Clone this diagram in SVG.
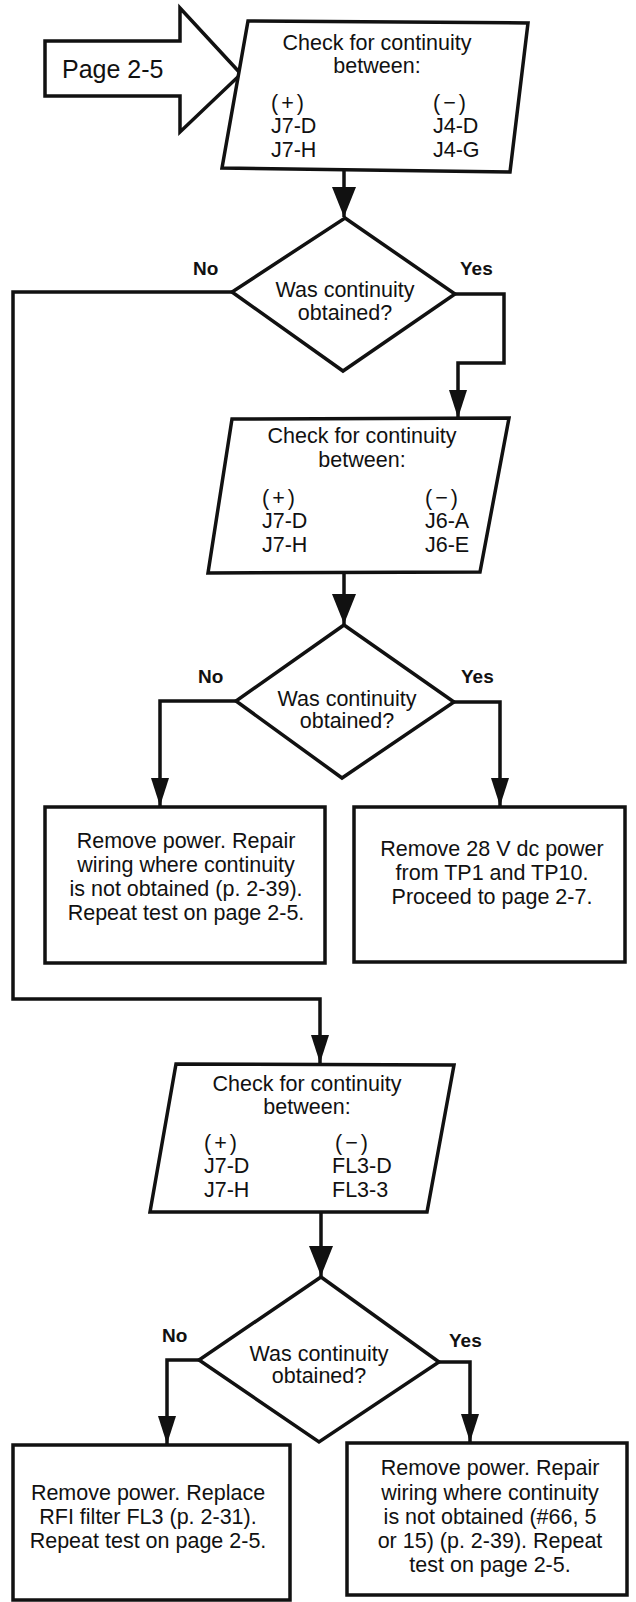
<svg xmlns="http://www.w3.org/2000/svg" width="636" height="1602" viewBox="0 0 636 1602">
  <style>
    .shape { fill: #fff; stroke: #111; stroke-width: 3.5; stroke-linejoin: miter; }
    .wire { fill: none; stroke: #111; stroke-width: 3.5; }
    .t { font-family: "Liberation Sans", Arial, sans-serif; font-size: 21.5px; fill: #111; }
    .c { text-anchor: middle; }
    .sign { letter-spacing: 3px; }
    .lbl { font-family: "Liberation Sans", Arial, sans-serif; font-size: 19px; font-weight: bold; fill: #111; }
    .page { font-family: "Liberation Sans", Arial, sans-serif; font-size: 25px; fill: #111; }
  </style>
  <defs>
    <marker id="arrow-lg" viewBox="0 0 30 24" refX="30" refY="12" markerWidth="30" markerHeight="24" markerUnits="userSpaceOnUse" orient="auto">
      <path d="M0,0 L30,12 L0,24 z" fill="#111"/>
    </marker>
    <marker id="arrow-sm" viewBox="0 0 28 18" refX="28" refY="9" markerWidth="28" markerHeight="18" markerUnits="userSpaceOnUse" orient="auto">
      <path d="M0,0 L28,9 L0,18 z" fill="#111"/>
    </marker>
  </defs>
  <rect width="636" height="1602" fill="#fff"/>

  <!-- entry arrow -->
  <g id="entry">
    <polygon class="shape" points="45,41 180,41 180,8 241,74 180,132 180,96 45,96"/>
    <text class="page" x="62" y="78">Page 2-5</text>
  </g>

  <!-- connectors -->
  <g id="connectors">
    <path class="wire" d="M344,171 L344,217" marker-end="url(#arrow-lg)"/>
    <path class="wire" d="M232,292 L13,292 L13,999 L320,999 L320,1063" marker-end="url(#arrow-sm)"/>
    <path class="wire" d="M455,294 L504,294 L504,363 L458,363 L458,418" marker-end="url(#arrow-sm)"/>
    <path class="wire" d="M344,573 L344,624" marker-end="url(#arrow-lg)"/>
    <path class="wire" d="M236,701 L160,701 L160,806" marker-end="url(#arrow-sm)"/>
    <path class="wire" d="M454,702 L500,702 L500,806" marker-end="url(#arrow-sm)"/>
    <path class="wire" d="M321,1212 L321,1276" marker-end="url(#arrow-lg)"/>
    <path class="wire" d="M199,1360 L167,1360 L167,1444" marker-end="url(#arrow-sm)"/>
    <path class="wire" d="M439,1362 L470,1362 L470,1442" marker-end="url(#arrow-sm)"/>
  </g>

  <!-- check J7 to J4 -->
  <g id="check-j4">
    <polygon class="shape" points="248,21 528,23 510,172 222,168"/>
    <text class="t c" x="377" y="50">Check for continuity</text>
    <text class="t c" x="377" y="73">between:</text>
    <text class="t sign" x="271" y="110">(+)</text>
    <text class="t" x="271" y="133">J7-D</text>
    <text class="t" x="271" y="157">J7-H</text>
    <text class="t sign" x="433" y="110">(−)</text>
    <text class="t" x="433" y="133">J4-D</text>
    <text class="t" x="433" y="157">J4-G</text>
  </g>

  <!-- decision 1 -->
  <g id="decision-1">
    <polygon class="shape" points="345,218 455,294 343,371 232,292"/>
    <text class="t c" x="345" y="297">Was continuity</text>
    <text class="t c" x="345" y="320">obtained?</text>
    <text class="lbl" x="193" y="275">No</text>
    <text class="lbl" x="460" y="275">Yes</text>
  </g>

  <!-- check J7 to J6 -->
  <g id="check-j6">
    <polygon class="shape" points="232,419 509,418 480,572 208,573"/>
    <text class="t c" x="362" y="443">Check for continuity</text>
    <text class="t c" x="362" y="467">between:</text>
    <text class="t sign" x="262" y="505">(+)</text>
    <text class="t" x="262" y="528">J7-D</text>
    <text class="t" x="262" y="552">J7-H</text>
    <text class="t sign" x="425" y="505">(−)</text>
    <text class="t" x="425" y="528">J6-A</text>
    <text class="t" x="425" y="552">J6-E</text>
  </g>

  <!-- decision 2 -->
  <g id="decision-2">
    <polygon class="shape" points="344,625 454,702 342,778 236,701"/>
    <text class="t c" x="347" y="706">Was continuity</text>
    <text class="t c" x="347" y="728">obtained?</text>
    <text class="lbl" x="198" y="683">No</text>
    <text class="lbl" x="461" y="683">Yes</text>
  </g>

  <!-- repair wiring J6 -->
  <g id="repair-j6">
    <rect class="shape" x="45" y="807" width="280" height="156"/>
    <text class="t c" x="186" y="848">Remove power. Repair</text>
    <text class="t c" x="186" y="872">wiring where continuity</text>
    <text class="t c" x="186" y="896">is not obtained (p. 2-39).</text>
    <text class="t c" x="186" y="920">Repeat test on page 2-5.</text>
  </g>

  <!-- proceed -->
  <g id="proceed">
    <rect class="shape" x="354" y="807" width="271" height="155"/>
    <text class="t c" x="492" y="856">Remove 28 V dc power</text>
    <text class="t c" x="492" y="880">from TP1 and TP10.</text>
    <text class="t c" x="492" y="904">Proceed to page 2-7.</text>
  </g>

  <!-- check J7 to FL3 -->
  <g id="check-fl3">
    <polygon class="shape" points="176,1064 454,1065 427,1212 150,1212"/>
    <text class="t c" x="307" y="1091">Check for continuity</text>
    <text class="t c" x="307" y="1114">between:</text>
    <text class="t sign" x="204" y="1150">(+)</text>
    <text class="t" x="204" y="1173">J7-D</text>
    <text class="t" x="204" y="1197">J7-H</text>
    <text class="t sign" x="335" y="1150">(−)</text>
    <text class="t" x="332" y="1173">FL3-D</text>
    <text class="t" x="332" y="1197">FL3-3</text>
  </g>

  <!-- decision 3 -->
  <g id="decision-3">
    <polygon class="shape" points="321,1277 439,1362 319,1442 199,1360"/>
    <text class="t c" x="319" y="1361">Was continuity</text>
    <text class="t c" x="319" y="1383">obtained?</text>
    <text class="lbl" x="162" y="1342">No</text>
    <text class="lbl" x="449" y="1347">Yes</text>
  </g>

  <!-- replace FL3 -->
  <g id="replace-fl3">
    <rect class="shape" x="13" y="1445" width="277" height="155"/>
    <text class="t c" x="148" y="1500">Remove power. Replace</text>
    <text class="t c" x="148" y="1524">RFI filter FL3 (p. 2-31).</text>
    <text class="t c" x="148" y="1548">Repeat test on page 2-5.</text>
  </g>

  <!-- repair wiring FL3 -->
  <g id="repair-fl3">
    <rect class="shape" x="347" y="1443" width="280" height="152"/>
    <text class="t c" x="490" y="1475">Remove power. Repair</text>
    <text class="t c" x="490" y="1500">wiring where continuity</text>
    <text class="t c" x="490" y="1524">is not obtained (#66, 5</text>
    <text class="t c" x="490" y="1548">or 15) (p. 2-39). Repeat</text>
    <text class="t c" x="490" y="1572">test on page 2-5.</text>
  </g>
</svg>
